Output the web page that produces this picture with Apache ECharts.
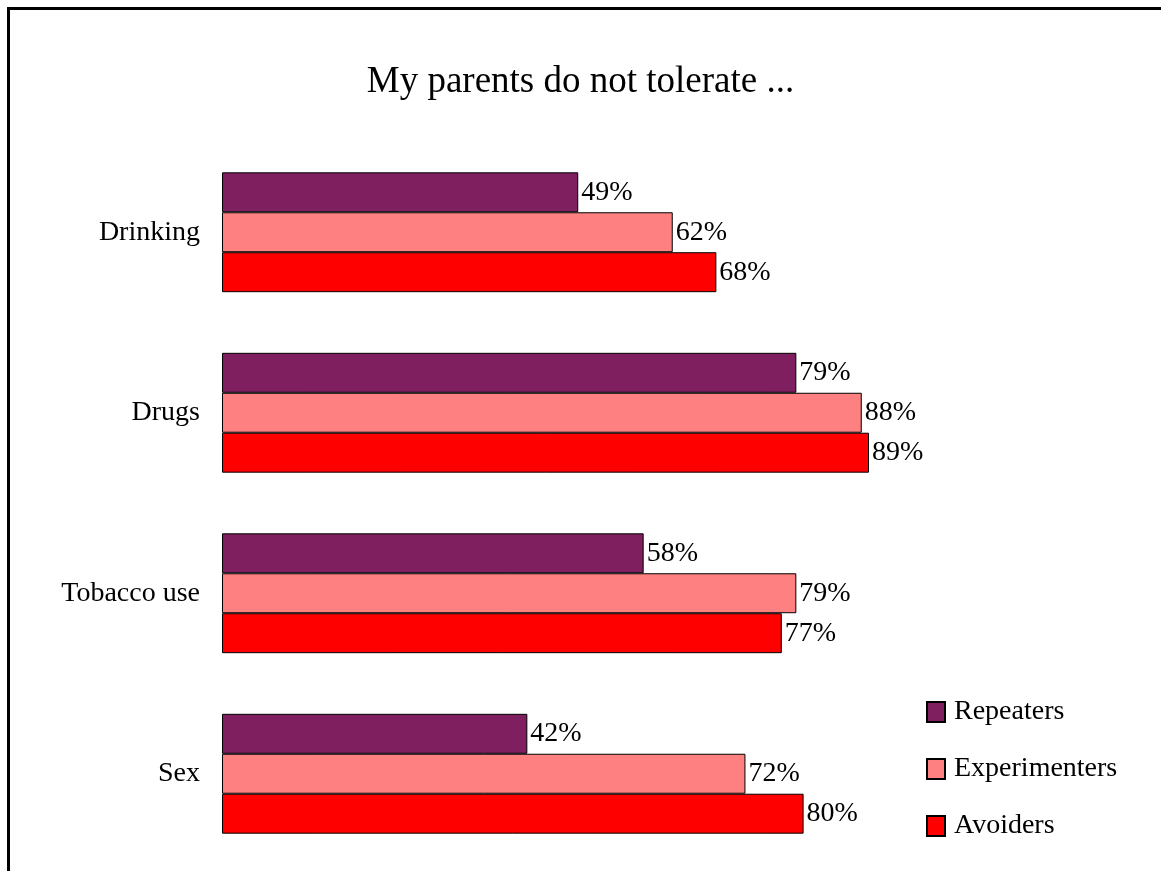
<!DOCTYPE html>
<html>
<head>
<meta charset="utf-8">
<script src="https://cdn.jsdelivr.net/npm/echarts@6/dist/echarts.min.js"></script>
<style>
	html, body { margin: 0; padding: 0; background: #fff; }
	#chart { width: 1161px; height: 871px; }
</style>
</head>
<body>
<div id="chart"></div>
<script>
var categories = ['Drinking', 'Drugs', 'Tobacco use', 'Sex'];
var repeaters = [49, 79, 58, 42];
var experimenters = [62, 88, 79, 72];
var avoiders = [68, 89, 77, 80];

var serif = '"Liberation Serif", "Times New Roman", serif';

function barSeries(name, data, color){
	return {
		name: name,
		type: 'bar',
		data: data,
		barGap: '0%',
		barCategoryGap: '33.6%',
		itemStyle: {
			color: color,
			borderColor: '#000',
			borderWidth: 1
		},
		label: {
			show: true,
			position: 'right',
			distance: 3,
			formatter: '{c}%',
			color: '#000',
			fontFamily: serif,
			fontSize: 28,
			padding: [6, 0, 0, 0]
		}
	};
}

var myChart = echarts.init(document.getElementById('chart'));
var option = {
	animation: false,
	title: {
		text: 'My parents do not tolerate ...',
		left: 'center',
		top: 59,
		textStyle: {
			fontFamily: serif,
			fontSize: 37,
			fontWeight: 'normal',
			color: '#000'
		}
	},
	legend: {
		orient: 'vertical',
		left: 921,
		top: 691,
		itemWidth: 18,
		itemHeight: 20,
		itemGap: 25,
		icon: 'rect',
		textStyle: {
			fontFamily: serif,
			fontSize: 28,
			lineHeight: 28,
			color: '#000',
			padding: [4, 0, 0, 4]
		},
		data: ['Repeaters', 'Experimenters', 'Avoiders']
	},
	graphic: [{
		type: 'rect',
		shape: { x: 8.5, y: 8.5, width: 1300, height: 1000 },
		style: { fill: null, stroke: '#000', lineWidth: 3 }
	}],
	grid: {
		left: 222,
		right: 212,
		top: 142,
		bottom: 7,
		containLabel: false
	},
	xAxis: {
		type: 'value',
		min: 0,
		max: 100,
		show: false
	},
	yAxis: {
		type: 'category',
		inverse: true,
		data: categories,
		axisLine: { show: false },
		axisTick: { show: false },
		axisLabel: {
			margin: 22,
			fontFamily: serif,
			fontSize: 28,
			color: '#000',
			padding: [7, 0, 0, 0]
		}
	},
	series: [
		barSeries('Repeaters', repeaters, '#7F1F5F'),
		barSeries('Experimenters', experimenters, '#FF8080'),
		barSeries('Avoiders', avoiders, '#FF0000')
	]
};
myChart.setOption(option);
window.addEventListener('resize', function(){
	myChart.resize();
});
</script>
</body>
</html>
